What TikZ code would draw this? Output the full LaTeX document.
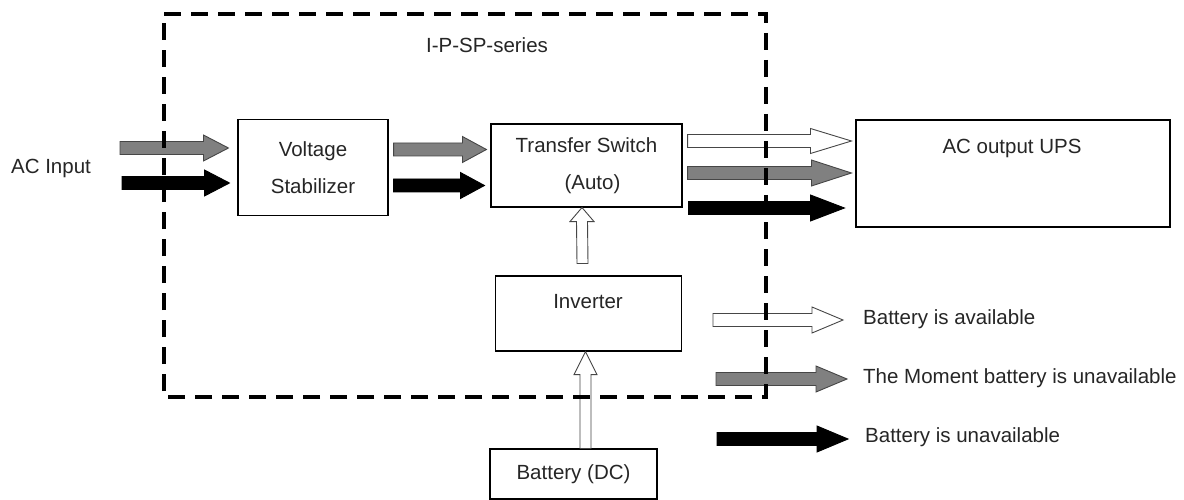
\documentclass[tikz,border=0pt]{standalone}
\usepackage{fontspec}
\setmainfont{Liberation Sans}
\usetikzlibrary{calc}
\definecolor{arrgray}{RGB}{128,128,128}
\definecolor{edgegray}{RGB}{70,70,70}
\newcommand\harrow[5]{% style, start, end, head length, head half-height
  \draw[#1] ($(#2)+(0,-6.5)$) -- ($(#3)+(-#4,-6.5)$) -- ($(#3)+(-#4,-#5)$) -- (#3)
    -- ($(#3)+(-#4,#5)$) -- ($(#3)+(-#4,6.5)$) -- ($(#2)+(0,6.5)$) -- cycle;}
\newcommand\varrow[5]{% style, start (bottom), tip (top), head length, head half-width
  \draw[#1] ($(#2)+(-5.5,0)$) -- ($(#3)+(-5.5,#4)$) -- ($(#3)+(-#5,#4)$) -- (#3)
    -- ($(#3)+(#5,#4)$) -- ($(#3)+(5.5,#4)$) -- ($(#2)+(5.5,0)$) -- cycle;}
\tikzset{
  box/.style={draw=black, line width=1.1pt, rectangle, inner sep=0pt, align=center},
  txt/.style={inner sep=0pt, font=\fontsize{20.5}{37}\selectfont, text=black!85},
  whitearr/.style={draw=edgegray, line width=0.9pt, fill=white},
  grayarr/.style={draw=edgegray, line width=0.9pt, fill=arrgray},
  blackarr/.style={draw=black, line width=0.9pt, fill=black},
  dashframe/.style={draw=black, line width=3.6pt, dash pattern=on 17pt off 10pt}
}
\begin{document}
\begin{tikzpicture}[x=1pt, y=-1pt]
\useasboundingbox[fill=white] (0,0) rectangle (1184,500);

% boxes
\node[box, txt, minimum width=150, minimum height=96] (vs) at (313,167.5) {Voltage\\Stabilizer};
\node[box, txt, minimum width=191, minimum height=83] (ts) at (586.5,165.5) {Transfer Switch\\\hspace*{12pt}(Auto)};
\node[box, minimum width=186, minimum height=75] (inv) at (588.5,313.5) {};
\node[txt] (invt) at (588,302) {Inverter};
\node[box, minimum width=314, minimum height=107] (ups) at (1013,173.5) {};
\node[txt] (upst) at (1012,148) {AC output UPS};
\node[box, txt, minimum width=167, minimum height=50] (bat) at (573.5,474) {Battery (DC)};

% labels
\node[txt] (acin) at (51,168) {AC Input};
\node[txt] (series) at (487,45) {I-P-SP-series};

% AC input arrows
\coordinate (g1s) at (120,148);
\coordinate (g1e) at ($(vs.west|-g1s)+(-9,0)$);
\coordinate (b1s) at (122,183);
\coordinate (b1e) at ($(vs.west|-b1s)+(-8,0)$);
\harrow{grayarr}{g1s}{g1e}{25}{13}
\harrow{blackarr}{b1s}{b1e}{25}{13}

% stabilizer -> transfer switch
\coordinate (g2s) at ($(vs.east)+(5,-18)$);
\coordinate (g2e) at ($(ts.west|-g2s)+(-4,0)$);
\coordinate (b2s) at ($(vs.east)+(5,18)$);
\coordinate (b2e) at ($(ts.west|-b2s)+(-6,0)$);
\harrow{grayarr}{g2s}{g2e}{24}{13}
\harrow{blackarr}{b2s}{b2e}{24}{13}

% transfer switch -> AC output
\coordinate (w3s) at ($(ts.east|-0,141)+(5,0)$);
\coordinate (w3e) at ($(ups.west|-w3s)+(-4,0)$);
\coordinate (g3s) at ($(ts.east|-0,173)+(5,0)$);
\coordinate (g3e) at ($(ups.west|-g3s)+(-4,0)$);
\coordinate (b3s) at ($(ts.east|-0,208)+(6,0)$);
\coordinate (b3e) at ($(ups.west|-b3s)+(-11,0)$);
\harrow{whitearr}{w3s}{w3e}{41}{12.5}
\harrow{grayarr}{g3s}{g3e}{40}{13}
\harrow{blackarr}{b3s}{b3e}{34}{13}

% vertical arrows
\coordinate (v1s) at ($(inv.north)+(-6,-12)$);
\coordinate (v1e) at (ts.south|-v1s);
\coordinate (v1t) at ($(ts.south)+(-4.5,0)$);
\varrow{whitearr}{v1s}{v1t}{14}{12}
\coordinate (v2s) at ($(bat.north)+(12,0)$);
\coordinate (v2t) at (inv.south-|v2s);
\varrow{whitearr}{v2s}{v2t}{23}{11.5}

% legend
\coordinate (l1s) at (713,320);
\coordinate (l1e) at (843,320);
\coordinate (l2s) at (716,379);
\coordinate (l2e) at (847,379);
\coordinate (l3s) at (717,439);
\coordinate (l3e) at (848,439);
\harrow{whitearr}{l1s}{l1e}{31}{13}
\harrow{grayarr}{l2s}{l2e}{31}{13}
\harrow{blackarr}{l3s}{l3e}{31}{13}
\node[txt, anchor=west] (lt1) at (863,319) {Battery is available};
\node[txt, anchor=west] (lt2) at (863,378) {The Moment battery is unavailable};
\node[txt, anchor=west] (lt3) at (865,437) {Battery is unavailable};

% dashed frame
\draw[dashframe] (164,14) -- (766,14) -- (766,397) -- (164,397) -- cycle;
\end{tikzpicture}
\end{document}
